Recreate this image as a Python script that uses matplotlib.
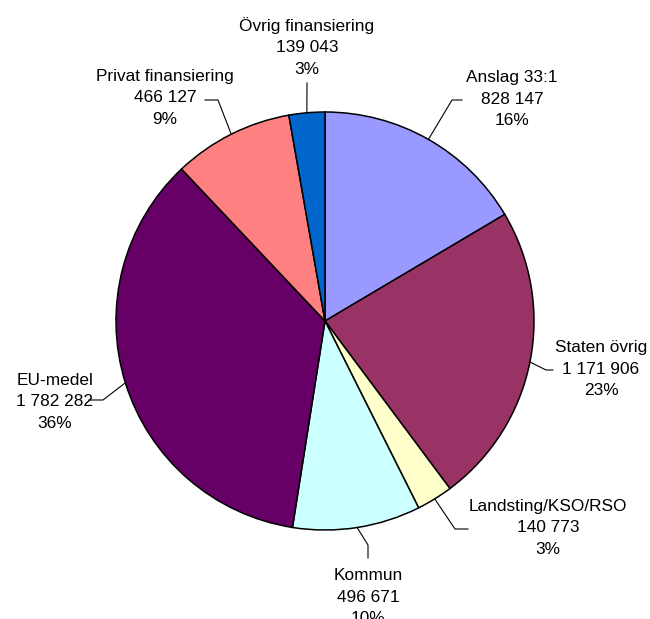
import numpy as np
import matplotlib
matplotlib.use('Agg')
from matplotlib import pyplot as plt

plt.rcParams['font.family'] = ['Liberation Sans', 'DejaVu Sans']

# data
names = ['Anslag 33:1', 'Staten övrig', 'Landsting/KSO/RSO', 'Kommun',
         'EU-medel', 'Privat finansiering', 'Övrig finansiering']
values = [828147, 1171906, 140773, 496671, 1782282, 466127, 139043]
value_labels = ['828 147', '1 171 906', '140 773', '496 671',
                '1 782 282', '466 127', '139 043']
pct_labels = ['16%', '23%', '3%', '10%', '36%', '9%', '3%']
colors = ['#9999FF', '#993366', '#FFFFCC', '#CCFFFF',
          '#660066', '#FF8080', '#0066CC']

W, H = 650, 619
cx, cy, r = 325, H - 321, 209

# label text centres and leader paths (pixel coords, y from top)
text_pos = [(512, 99), (601, 369), (548, 528), (368, 597),
            (55, 402), (165, 98), (307, 47)]
leader = [[(452, 100), (462, 100)],
          [(546, 370), (553, 370)],
          [(455, 529), (468, 529)],
          [(368, 545), (368, 558)],
          [(103, 400), (89, 400)],
          [(218, 100), (205, 100)],
          [(307, 83)]]

fig = plt.figure(figsize=(W / 100, H / 100), dpi=100)
ax = fig.add_axes([0, 0, 1, 1])

wedges, _ = ax.pie(values, colors=colors, startangle=90, counterclock=False,
                   center=(cx, cy), radius=r,
                   wedgeprops=dict(edgecolor='black', linewidth=1.1))

for i, w in enumerate(wedges):
    ang = np.deg2rad((w.theta1 + w.theta2) / 2)
    px, py = cx + r * np.cos(ang), cy + r * np.sin(ang)
    pts = [(px, py)] + [(x, H - y) for x, y in leader[i]]
    ax.plot([p[0] for p in pts], [p[1] for p in pts], color='black', lw=0.8)
    tx, ty = text_pos[i]
    ax.text(tx, H - ty, f'{names[i]}\n{value_labels[i]}\n{pct_labels[i]}',
            ha='center', va='center', fontsize=12.4, linespacing=1.55)

ax.set_xlim(0, W)
ax.set_ylim(0, H)
ax.set_aspect('auto')
ax.axis('off')

fig.savefig('out.png', dpi=100)
